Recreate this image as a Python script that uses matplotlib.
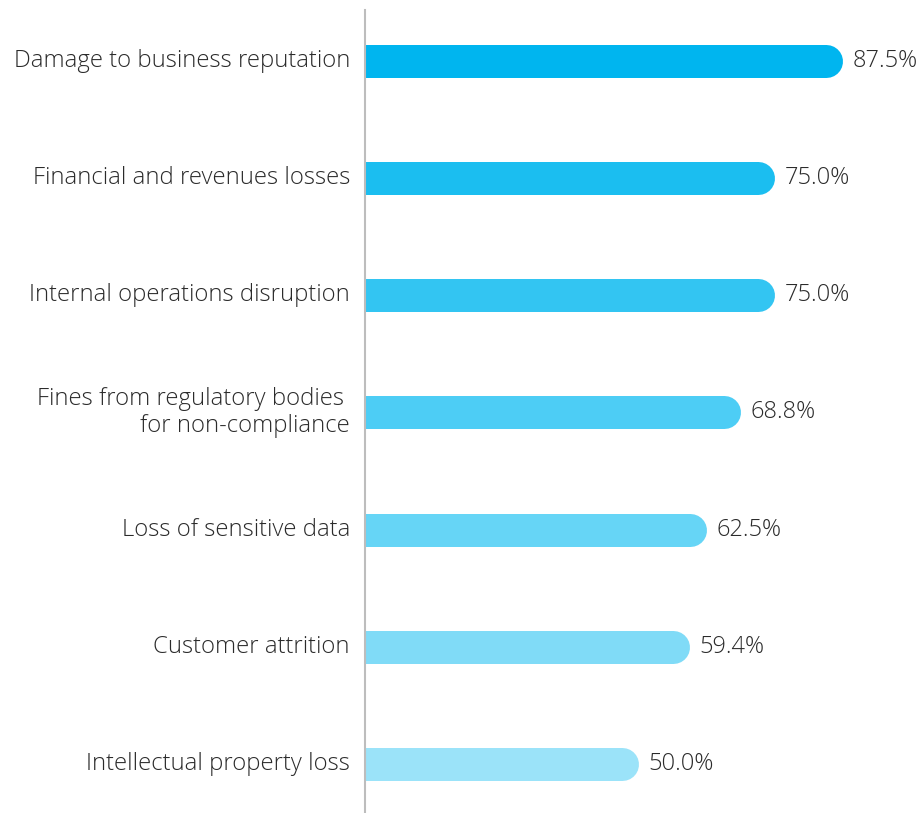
import matplotlib
matplotlib.use('Agg')
import matplotlib.pyplot as plt

categories = [
    'Damage to business reputation',
    'Financial and revenues losses',
    'Internal operations disruption',
    'Fines from regulatory bodies \nfor non-compliance',
    'Loss of sensitive data',
    'Customer attrition',
    'Intellectual property loss',
]
values = [87.5, 75.0, 75.0, 68.8, 62.5, 59.4, 50.0]
colors = ['#00B5EF', '#1BBEF0', '#33C5F2', '#4DCDF5', '#66D5F6', '#80DBF7', '#9BE3F9']

plt.rcParams['font.family'] = ['Open Sans', 'DejaVu Sans']

W, H = 921, 813
fig = plt.figure(figsize=(W / 100, H / 100), dpi=100)
fig.patch.set_facecolor('white')

px_per_unit = 5.46
ax_left, ax_top = 365, 10
ax = fig.add_axes([ax_left / W, 0, (W - ax_left) / W, (H - ax_top) / H])
ax.set_xlim(0, (W - ax_left) / px_per_unit)
ax.set_ylim(6.42, -0.435)
ax.axis('off')

bar_px = 33
lw_pt = bar_px * 72 / 100
cap_units = (bar_px / 2) / px_per_unit

for i, (v, c) in enumerate(zip(values, colors)):
    ax.plot([0, v - cap_units], [i, i], color=c, lw=lw_pt,
            solid_capstyle='round', zorder=2)
    ax.text(v + 1.8, i, f'{v:.1f}%', va='center', ha='left',
            fontsize=17, color='#2B2B2B', fontweight='light')

ax.axvline(0, color='#BDBDBD', lw=1.5, zorder=3, clip_on=False)

for i, lab in enumerate(categories):
    ax.text(-2.75, i, lab, va='center', ha='right', fontsize=17.2,
            color='#2B2B2B', fontweight='light', linespacing=1.2,
            clip_on=False)

fig.savefig('out.png', dpi=100)
